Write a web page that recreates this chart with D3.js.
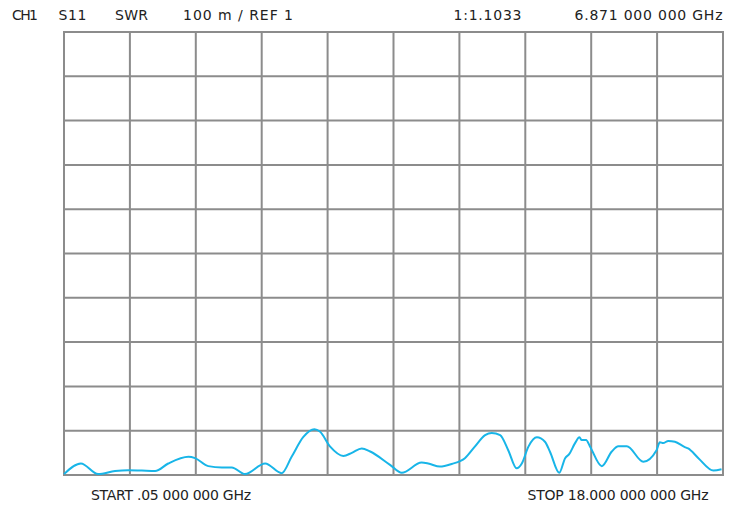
<!DOCTYPE html>
<html>
<head>
<meta charset="utf-8">
<script src="https://cdn.jsdelivr.net/npm/d3@7"></script>
<style>
  body { margin: 0; background: #fff; }
  text { font-family: "DejaVu Sans", sans-serif; font-size: 14px; fill: #222; }
</style>
</head>
<body>
<div id="chart"></div>
<script>
// sweep / scale settings
let startGHz = 0.05, stopGHz = 18;
let refSWR = 1, perDiv = 0.1, nDiv = 10;

// header texts
let headLeft = ["CH1", "S11", "SWR", "100 m / REF 1"];
let markerVal = "1:1.1033";
let markerFreq = "6.871 000 000 GHz";
let startLabel = "START .05 000 000 GHz";
let stopLabel = "STOP 18.000 000 000 GHz";

// trace: frequency (GHz) and SWR
let freq = [0.05, 0.51, 0.98, 1.44, 1.80, 2.17, 2.53, 2.89, 3.44, 3.62, 3.98, 4.35, 4.62, 4.98,
  5.53, 5.98, 6.25, 6.57, 6.871, 7.02, 7.30, 7.66, 7.89, 8.16, 8.39, 8.93, 9.25, 9.79, 9.97,
  10.29, 10.61, 10.97, 11.24, 11.52, 11.70, 11.93, 12.15, 12.38, 12.52, 12.70, 12.93, 13.15,
  13.29, 13.54, 13.70, 13.81, 13.97, 14.09, 14.15, 14.27, 14.38, 14.70, 14.97, 15.15, 15.38,
  15.83, 16.19, 16.28, 16.37, 16.51, 16.69, 16.96, 17.05, 17.33, 17.74, 17.96];
let swr = [1.002, 1.026, 1.002, 1.009, 1.011, 1.010, 1.009, 1.026, 1.041, 1.038, 1.020, 1.017, 1.017, 1.002,
  1.026, 1.004, 1.041, 1.086, 1.1033, 1.098, 1.064, 1.043, 1.050, 1.060, 1.053, 1.023, 1.005, 1.028, 1.026,
  1.019, 1.025, 1.038, 1.064, 1.090, 1.095, 1.090, 1.056, 1.015, 1.026, 1.064, 1.085, 1.075,
  1.052, 1.005, 1.038, 1.047, 1.072, 1.085, 1.079, 1.079, 1.064, 1.020, 1.053, 1.065, 1.065,
  1.030, 1.056, 1.074, 1.072, 1.077, 1.075, 1.063, 1.060, 1.038, 1.010, 1.013];

let W = 740, H = 506;
let gLeft = 64, gRight = 723, gTop = 32, gBottom = 475;

let svg = d3.select("#chart").append("svg")
    .attr("width", W)
    .attr("height", H);

let x = d3.scaleLinear().domain([startGHz, stopGHz]).range([gLeft, gRight]);
let y = d3.scaleLinear().domain([refSWR, refSWR + perDiv * nDiv]).range([gBottom, gTop]);

// graticule
let gx = d3.range(nDiv + 1).map(i => startGHz + i * (stopGHz - startGHz) / nDiv);
let gy = d3.range(nDiv + 1).map(i => refSWR + i * perDiv);

let grid = svg.append("g").attr("stroke", "#8c8c8c").attr("stroke-width", 2);
grid.selectAll(".vl").data(gx).enter().append("line")
    .attr("x1", d => x(d)).attr("x2", d => x(d))
    .attr("y1", gTop).attr("y2", gBottom);
grid.selectAll(".hl").data(gy).enter().append("line")
    .attr("x1", gLeft - 1).attr("x2", gRight + 1)
    .attr("y1", d => y(d)).attr("y2", d => y(d));

// trace
let pts = freq.map((f, i) => [f, swr[i]]);
let line = d3.line()
    .x(d => x(d[0]))
    .y(d => y(d[1]))
    .curve(d3.curveMonotoneX);

svg.append("path")
    .datum(pts)
    .attr("fill", "none")
    .attr("stroke", "#18b5e8")
    .attr("stroke-width", 2)
    .attr("stroke-linejoin", "round")
    .attr("d", line);

// annotation texts, [text, x, baseline, width]
let labels = [
  [headLeft[0], 12, 20, 26],
  [headLeft[1], 58.5, 20, 28],
  [headLeft[2], 115, 20, 33],
  [headLeft[3], 183, 20, 110],
  [markerVal, 453.5, 20, 68],
  [markerFreq, 574.5, 20, 148],
  [startLabel, 91, 500, 160],
  [stopLabel, 527.5, 500, 181]
];
svg.selectAll(".lbl").data(labels).enter().append("text")
    .attr("class", "lbl")
    .attr("x", d => d[1])
    .attr("y", d => d[2])
    .attr("textLength", d => d[3])
    .attr("lengthAdjust", "spacing")
    .text(d => d[0]);
</script>
</body>
</html>
